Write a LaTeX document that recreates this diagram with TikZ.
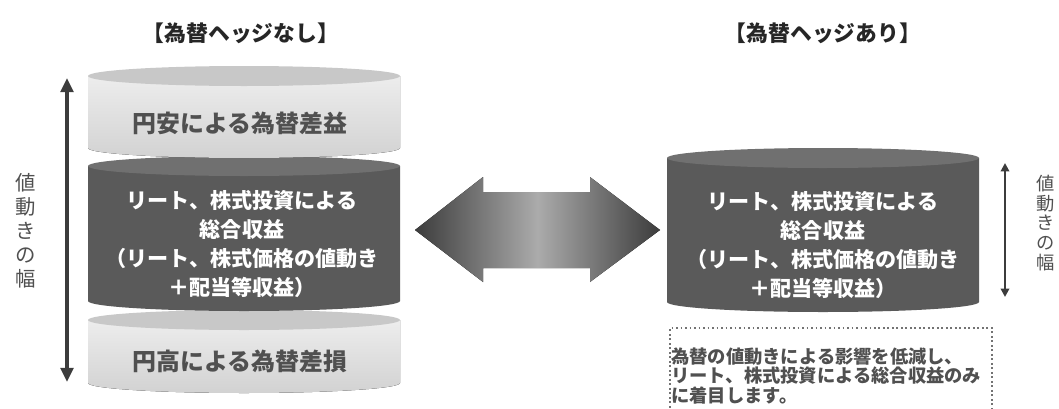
\documentclass[tikz,border=0pt]{standalone}
\usepackage{fontspec}
\setmainfont{Noto Sans CJK JP}
\usepackage{xcolor}
\usetikzlibrary{arrows.meta,positioning,calc}

\definecolor{lightup}{HTML}{EDEDED}
\definecolor{lightdown}{HTML}{D2D2D2}
\definecolor{lighttop}{HTML}{C8C8C8}
\definecolor{darkside}{HTML}{5A5A5A}
\definecolor{darktop}{HTML}{707070}
\definecolor{greytext}{HTML}{505050}
\definecolor{arrowdark}{HTML}{3C3C3C}
\definecolor{arrowlight}{HTML}{ABABAB}

\tikzset{
  title/.style={font=\fontsize{15.5}{18}\selectfont\bfseries, text=black!85},
  lighttext/.style={font=\fontsize{17}{20}\selectfont\bfseries, text=greytext},
  darktext/.style={font=\fontsize{15}{20.8}\selectfont\bfseries, text=white, align=center},
  widthlabel/.style={text=greytext, align=center, inner sep=0pt},
  notetext/.style={font=\fontsize{13}{14.2}\selectfont\bfseries, text=greytext, align=left, inner sep=0pt}
}

\begin{document}
\begin{tikzpicture}[x=0.025cm, y=0.025cm]
    \useasboundingbox (0,0) rectangle (1059,-408);

    % Left cylinder, bottom part first
    \fill[top color=lightup, bottom color=lightdown] (88,-320) -- (88,-383) arc[start angle=180, end angle=360, x radius=156, y radius=10] -- (400,-320) -- cycle;
    \fill[lighttop] (244,-320) ellipse[x radius=156, y radius=10];
    \fill[darkside] (88,-166) -- (88,-301) arc[start angle=180, end angle=360, x radius=156, y radius=10] -- (400,-166) -- cycle;
    \fill[darktop] (244,-166) ellipse[x radius=156, y radius=10];
    \fill[top color=lightup, bottom color=lightdown] (88,-76) -- (88,-148) arc[start angle=180, end angle=360, x radius=156, y radius=10] -- (400,-76) -- cycle;
    \fill[lighttop] (244,-76) ellipse[x radius=156, y radius=10];

    % Right cylinder
    \fill[darkside] (667,-158) -- (667,-302) arc[start angle=180, end angle=360, x radius=156, y radius=10] -- (979,-158) -- cycle;
    \fill[darktop] (823,-158) ellipse[x radius=156, y radius=10];

    % Titles
    \node[title] (nohedge) at (241,-33) {【為替ヘッジなし】};
    \node[title] (hedge) at (823,-33) {【為替ヘッジあり】};

    % Texts in the cylinders
    \node[lighttext] (gain) at (240,-123) {円安による為替差益};
    \node[darktext] (totalleft) at (242,-244) {リート、株式投資による\\総合収益\\（リート、株式価格の値動き\\＋配当等収益）};
    \node[lighttext] (loss) at (240,-361) {円高による為替差損};
    \node[darktext] (totalright) at (823,-245) {リート、株式投資による\\総合収益\\（リート、株式価格の値動き\\＋配当等収益）};

    % Middle double arrow
    \fill[left color=arrowdark, right color=arrowdark, middle color=arrowlight]
      (415,-230) -- (483,-177) -- (483,-192) -- (590,-192) -- (590,-177) -- (660,-230)
      -- (590,-282) -- (590,-268) -- (483,-268) -- (483,-282) -- cycle;

    % Range arrows
    \coordinate (lefttop) at (67,-78);
    \coordinate (leftbottom) at (67,-382);
    \draw[{Triangle[length=10pt, width=9pt]}-{Triangle[length=10pt, width=9pt]}, line width=2.6pt, arrowdark] (lefttop) -- (leftbottom);
    \node[widthlabel, font=\fontsize{14.5}{17}\selectfont] (rangeleft) at (26,-231) {値\\動\\き\\の\\幅};

    \coordinate (righttop) at (1005,-163);
    \coordinate (rightbottom) at (1005,-297);
    \draw[{Triangle[length=6pt, width=6pt]}-{Triangle[length=6pt, width=6pt]}, line width=1.5pt, arrowdark] (righttop) -- (rightbottom);
    \node[widthlabel, font=\fontsize{13}{14}\selectfont] (rangeright) at (1046,-223) {値\\動\\き\\の\\幅};

    % Dotted note box
    \draw[dotted, line width=1.2pt, greytext!80] (670,-412) -- (670,-328) -- (992,-328) -- (992,-412);
    \node[notetext, anchor=west] (note) at (671,-376) {為替の値動きによる影響を低減し、\\リート、株式投資による総合収益のみ\\に着目します。};
\end{tikzpicture}
\end{document}
